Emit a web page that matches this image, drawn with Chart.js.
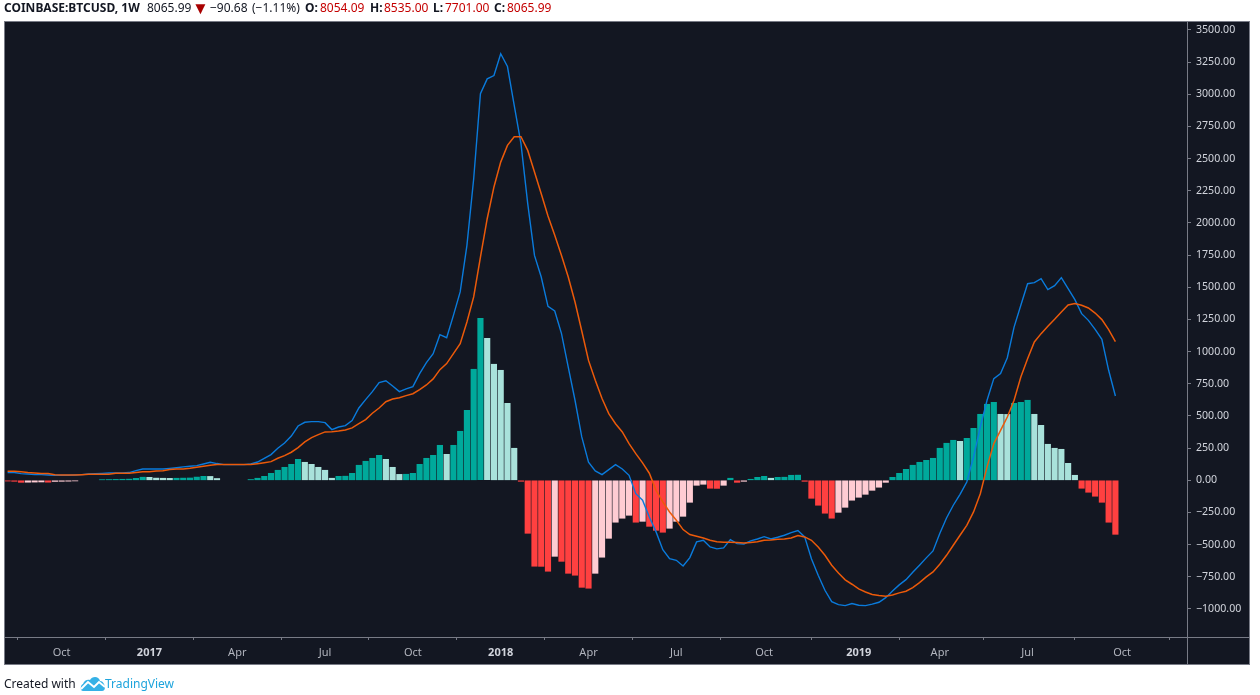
<!DOCTYPE html>
<html>
<head>
<meta charset="utf-8">
<title>COINBASE:BTCUSD, 1W</title>
<script src="https://cdn.jsdelivr.net/npm/chart.js@4/dist/chart.umd.min.js"></script>
<style>
  html, body { margin: 0; padding: 0; background: #fff; overflow: hidden; }
  body { width: 1260px; height: 695px; position: relative; font-family: "Noto Sans", sans-serif; }
  .panel { position: absolute; left: 4px; top: 21px; width: 1244px; height: 642px; background: #131722; border: 1px solid #787b86; }
  .vline { position: absolute; left: 1187px; top: 22px; width: 1px; height: 642px; background: #787b86; }
  .hline { position: absolute; left: 5px; top: 637px; width: 1244px; height: 1px; background: #787b86; }
  canvas { position: absolute; left: 0; top: 0; }
  .hdr { position: absolute; top: 0; font-size: 12px; line-height: 15px; white-space: nowrap; color: #131722; }
  .hdr.b { font-weight: bold; }
  .hdr.r { color: #c40000; }
  .foot { position: absolute; top: 675px; font-size: 12px; line-height: 17px; white-space: nowrap; color: #131722; }
  .logo { position: absolute; left: 80px; top: 676px; }
</style>
</head>
<body>
<div class="panel"></div>
<div class="vline"></div>
<div class="hline"></div>
<canvas id="chart" width="1260" height="695"></canvas>

<span class="hdr b" style="left:4px">COINBASE:BTCUSD, 1W</span>
<span class="hdr" style="left:147px">8065.99</span>
<span class="hdr" style="left:192px;color:#a80000;font-size:17px">▼</span>
<span class="hdr" style="left:210px">−90.68</span>
<span class="hdr" style="left:252px">(−1.11%)</span>
<span class="hdr b" style="left:305px">O:</span>
<span class="hdr r" style="left:320px">8054.09</span>
<span class="hdr b" style="left:370px">H:</span>
<span class="hdr r" style="left:384px">8535.00</span>
<span class="hdr b" style="left:433px">L:</span>
<span class="hdr r" style="left:445px">7701.00</span>
<span class="hdr b" style="left:494px">C:</span>
<span class="hdr r" style="left:507px">8065.99</span>

<span class="foot" style="left:4px">Created with</span>
<svg class="logo" width="26" height="16" viewBox="0 0 26 16">
  <path d="M3 15 C0 15 0 9 3 8 C4 4 8 3 10 4 C12 0 19 0 20 5 C25 5 27 15 22 15 Z" fill="#35b1e6"/>
  <path d="M1 13 L8 6 L14 11 L19 6 L25 11" fill="none" stroke="#fff" stroke-width="2"/>
</svg>
<span class="foot" style="left:105px;color:#1ea4dc">TradingView</span>

<script>
// weekly MACD, index 0 = first visible bar, Oct 2016 is index 8
const hist = [
  -6, -8, -16, -15, -14, -13, -15, -9, -8, -7, -5, null, null, null,
  5, 6, 7, 8, 9, 15, 24, 23, 17, 16, 15, 16, 17, 18, 25, 31, 30, 14,
  null, null, null, null,
  6, 16, 31, 54, 78, 101, 124, 163, 140, 124, 101, 78, 16, 31, 32, 54, 117, 148, 171, 194,
  163, 101, 46, 47, 54, 124, 171, 194, 272, 202, 272, 381, 544, 863, 1259, 1104, 902, 855, 598, 249,
  -8, -412, -668, -669, -707, -591, -630, -723, -738, -832, -839, -723, -598, -451, -326, -295, -272,
  -326, -319, -358, -389, -404, -373, -319, -280, -171, -39, -31, -62, -63, -39,
  16, -16, -8, 8, 23, 31, 16, 23, 24, 39, 40,
  -8, -140, -194, -256, -295, -249, -210, -155, -132, -109, -78, -54, -16,
  23, 54, 85, 117, 140, 155, 171, 249, 288, 311, 303, 326, 404, 513, 591, 606, 513, 512, 598, 606, 622,
  513, 427, 280, 249, 241, 132, 39,
  -62, -93, -124, -171, -326, -420
];

const macd = [
  60, 60, 52, 49, 44, 44, 41, 39, 39, 39, 41, 44, 49, 52, 54, 57, 57, 57, 60, 75, 88, 88, 88, 88,
  93, 98, 104, 109, 114, 127, 140, 130, 122, 122, 122, 122, 127, 142, 171, 200, 249, 290, 344, 422,
  451, 456, 456, 448, 394, 414, 425, 464, 562, 627, 689, 759, 774, 733, 689, 710, 728, 829, 914, 984,
  1132, 1108, 1282, 1464, 1826, 2344, 3004, 3120, 3146, 3315, 3216, 2914, 2616, 2150, 1748, 1580, 1352, 1316,
  1140, 880, 622, 337, 140, 73, 44, 83, 122, 88, 39, -104, -155, -285, -401, -539, -609, -622, -666, -601,
  -479, -466, -518, -533, -526, -461, -492, -495, -471, -456, -438, -456, -443, -427, -407, -391, -440, -609,
  -738, -855, -943, -966, -974, -958, -971, -974, -963, -948, -912, -860, -813, -772, -715, -660, -603, -549,
  -414, -293, -194, -109, -13, 181, 414, 622, 790, 829, 953, 1191, 1360, 1528, 1536, 1567, 1482, 1513, 1575,
  1489, 1404, 1295, 1243, 1173, 1096, 855, 655
];

const signal = [
  70, 70, 67, 60, 57, 52, 52, 44, 41, 41, 41, 44, 47, 47, 47, 47, 54, 54, 54, 60, 67, 67, 73, 75,
  83, 88, 88, 93, 101, 109, 117, 122, 122, 122, 122, 122, 122, 129, 137, 145, 171, 192, 218, 254,
  298, 332, 355, 376, 378, 383, 391, 407, 440, 472, 521, 562, 611, 632, 642, 658, 673, 705, 741, 788,
  860, 907, 984, 1062, 1230, 1425, 1735, 2033, 2280, 2473, 2603, 2670, 2670, 2564, 2396, 2227, 2054, 1904,
  1748, 1580, 1386, 1160, 932, 777, 635, 518, 440, 376, 285, 207, 135, 55, -78, -168, -246, -311, -383, -422,
  -435, -448, -466, -477, -482, -482, -484, -487, -484, -477, -466, -464, -458, -456, -448, -430, -440, -466,
  -518, -583, -660, -720, -774, -808, -844, -868, -888, -896, -901, -891, -875, -862, -834, -795, -751, -712,
  -653, -583, -505, -427, -350, -246, -104, 104, 285, 388, 492, 622, 803, 945, 1075, 1140, 1197, 1251, 1308,
  1362, 1373, 1360, 1339, 1300, 1249, 1171, 1077
];

const xTickWeeks = [8, 21, 34, 47, 60, 73, 86, 99, 112, 126, 138, 151, 165];
const xTickLabels = ['Oct', '2017', 'Apr', 'Jul', 'Oct', '2018', 'Apr', 'Jul', 'Oct', '2019', 'Apr', 'Jul', 'Oct'];
const yTicks = [3500, 3250, 3000, 2750, 2500, 2250, 2000, 1750, 1500, 1250, 1000, 750, 500, 250, 0, -250, -500, -750, -1000];

const teal = '#00a99b';
const tealLight = '#a9e2db';
const red = '#ff4040';
const pink = '#ffccd3';

// same colouring as the TradingView histogram: dark when growing away from zero
const barColors = hist.map((v, i) => {
  const prev = hist[i - 1];
  if (v >= 0) return prev == null || v >= prev ? teal : tealLight;
  return prev == null || v < prev ? red : pink;
});

const points = arr => arr.map((v, i) => ({ x: i, y: v }));
const isYear = ctx => !!ctx.tick && String(ctx.tick.label).length === 4;

new Chart(document.getElementById('chart'), {
  type: 'bar',
  data: {
    datasets: [
      { type: 'line', data: points(signal), borderColor: '#ec5a0a', borderWidth: 1.5, pointRadius: 0, tension: 0, order: 1 },
      { type: 'line', data: points(macd), borderColor: '#0a7bdc', borderWidth: 1.4, pointRadius: 0, tension: 0, order: 2 },
      { data: points(hist), backgroundColor: barColors, barThickness: 5.5, order: 3 }
    ]
  },
  options: {
    responsive: false,
    devicePixelRatio: 1,
    animation: false,
    layout: { padding: { left: 5, top: 22, right: 11, bottom: 31 } },
    plugins: { legend: { display: false }, tooltip: { enabled: false } },
    scales: {
      x: {
        type: 'linear',
        min: -0.385,
        max: 174.6,
        offset: false,
        afterBuildTicks: axis => { axis.ticks = xTickWeeks.map(w => ({ value: w })); },
        afterFit: axis => { axis.height = 27; },
        border: { display: false },
        grid: { drawOnChartArea: false, drawTicks: true, tickLength: 3, tickColor: '#787b86' },
        ticks: {
          autoSkip: false,
          maxRotation: 0,
          padding: 6,
          color: ctx => (isYear(ctx) ? '#d1d4dc' : '#b2b5be'),
          font: ctx => ({ family: '"Noto Sans"', size: 11, weight: isYear(ctx) ? 'bold' : 'normal' }),
          callback: (v, i) => xTickLabels[i]
        }
      },
      y: {
        position: 'right',
        min: -1218,
        max: 3562,
        afterBuildTicks: axis => { axis.ticks = yTicks.map(v => ({ value: v })); },
        afterFit: axis => { axis.width = 62; },
        border: { display: false },
        grid: { drawOnChartArea: false, drawTicks: true, tickLength: 4, tickColor: '#787b86' },
        ticks: {
          autoSkip: false,
          padding: 5,
          color: '#d1d4dc',
          font: { family: '"Noto Sans"', size: 10.6 },
          callback: v => v.toFixed(2).replace('-', '−')
        }
      }
    }
  }
});
</script>
</body>
</html>
